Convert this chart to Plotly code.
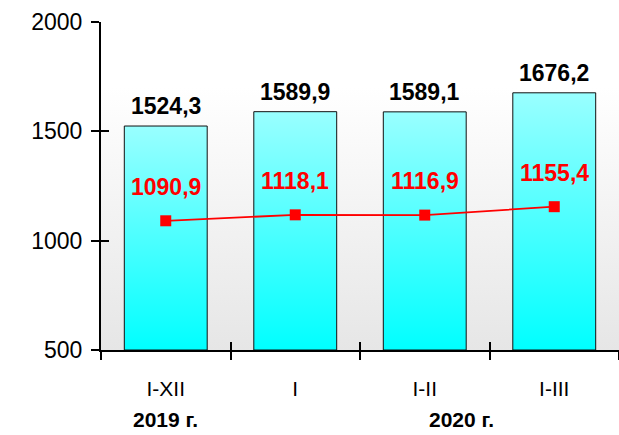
import plotly.graph_objects as go

categories = ["I-XII", "I", "I-II", "I-III"]
bar_values = [1524.3, 1589.9, 1589.1, 1676.2]
line_values = [1090.9, 1118.1, 1116.9, 1155.4]
year_labels = ["2019 г.", "2020 г."]
year_pos = [0, 2.28]
y_ticks = [500, 1000, 1500, 2000]

FONT = "Liberation Sans, Arial, sans-serif"
BASE = 500
BW = 0.64
n = len(categories)
idx = list(range(n))

def fmt(v):
    return f"{v:.1f}".replace(".", ",")

fig = go.Figure()

# plot-area gradient background
fig.add_trace(go.Scatter(
    x=[-0.5, n - 0.5, n - 0.5, -0.5, -0.5],
    y=[BASE, BASE, y_ticks[-1], y_ticks[-1], BASE],
    mode="lines", fill="toself", line=dict(width=0),
    fillgradient=dict(type="vertical", colorscale=[[0, "#e6e6e6"], [0.8, "#ffffff"], [1, "#ffffff"]]),
    hoverinfo="skip", showlegend=False))

# bars with vertical gradient
for i, v in zip(idx, bar_values):
    fig.add_trace(go.Scatter(
        x=[i - BW / 2, i + BW / 2, i + BW / 2, i - BW / 2, i - BW / 2],
        y=[BASE, BASE, v, v, BASE],
        mode="lines", fill="toself", line=dict(color="#111111", width=1),
        fillgradient=dict(type="vertical", colorscale=[[0, "#00ffff"], [1, "#99ffff"]]),
        hoverinfo="skip", showlegend=False))

# red line
fig.add_trace(go.Scatter(
    x=idx, y=line_values, mode="lines+markers",
    line=dict(color="#ff0000", width=1.8),
    marker=dict(symbol="square", size=11, color="#ff0000"),
    showlegend=False))

# dummy trace for overlay axes (inside ticks)
fig.add_trace(go.Scatter(x=[0], y=[BASE], xaxis="x2", yaxis="y2",
                         mode="markers", marker=dict(opacity=0), hoverinfo="skip", showlegend=False))

for i, v in zip(idx, bar_values):
    fig.add_annotation(x=i, y=v, text=f"<b>{fmt(v)}</b>", showarrow=False,
                       yanchor="bottom", yshift=5, font=dict(family=FONT, size=23, color="black"))
for i, v in zip(idx, line_values):
    fig.add_annotation(x=i, y=v, text=f"<b>{fmt(v)}</b>", showarrow=False,
                       yanchor="bottom", yshift=19, font=dict(family=FONT, size=23, color="#ff0000"))
for p, t in zip(year_pos, year_labels):
    fig.add_annotation(x=p, y=-0.213, yref="paper", text=f"<b>{t}</b>", showarrow=False,
                       yanchor="middle", font=dict(family=FONT, size=21, color="black"))

# top border line
fig.add_shape(type="line", xref="paper", x0=0, x1=1, yref="y", y0=y_ticks[-1], y1=y_ticks[-1],
              line=dict(color="#e0e0e0", width=2), layer="below")

boundaries = [i - 0.5 for i in range(n + 1)]

fig.update_layout(
    width=619, height=435,
    margin=dict(l=101, r=0, t=22, b=85),
    paper_bgcolor="white", plot_bgcolor="white",
    font=dict(family=FONT, size=21, color="black"),
    xaxis=dict(range=[-0.5, n - 0.5], tickmode="array", tickvals=idx, ticktext=categories,
               ticks="", showgrid=False, zeroline=False, showline=True, linecolor="black", linewidth=2,
               ticklabelstandoff=19, tickfont=dict(size=21),
               minor=dict(tickmode="array", tickvals=boundaries, ticks="outside", ticklen=8,
                          tickwidth=2, tickcolor="black", showgrid=False)),
    yaxis=dict(range=[BASE, y_ticks[-1]], tickmode="array", tickvals=y_ticks,
               ticks="outside", ticklen=8, tickwidth=2, tickcolor="black",
               showgrid=False, zeroline=False, showline=True, linecolor="black", linewidth=2,
               ticklabelstandoff=4, tickfont=dict(size=23)),
    xaxis2=dict(overlaying="x", matches="x", anchor="y2", tickmode="array", tickvals=boundaries,
                ticks="inside", ticklen=8, tickwidth=2, tickcolor="black", showticklabels=False,
                showgrid=False, zeroline=False, showline=False),
    yaxis2=dict(overlaying="y", matches="y", anchor="x2", tickmode="array", tickvals=y_ticks,
                ticks="inside", ticklen=8, tickwidth=2, tickcolor="black", showticklabels=False,
                showgrid=False, zeroline=False, showline=False),
)

fig.write_html("out.html", config={"displayModeBar": False},
               post_script="document.body.style.margin='0';")
